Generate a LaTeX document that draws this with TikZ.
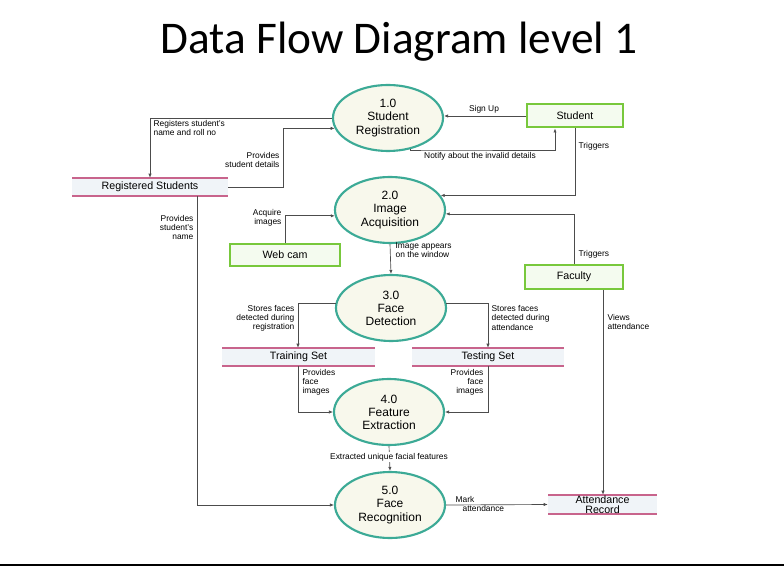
\documentclass[tikz,border=0pt]{standalone}
\usepackage{fontspec}
\setmainfont{Liberation Sans}
\newfontfamily\titlefont{Carlito}
\usetikzlibrary{shapes.geometric,arrows.meta}
\definecolor{teal1}{RGB}{60,170,150}
\definecolor{cream}{RGB}{248,248,236}
\definecolor{green1}{RGB}{120,200,60}
\definecolor{pink1}{RGB}{200,100,140}
\definecolor{store}{RGB}{240,244,248}
\tikzset{
 proc/.style={ellipse,draw=teal1,line width=1.6pt,fill=cream,minimum width=110\px,minimum height=66\px,inner sep=0pt,align=center,font=\fontsize{9}{9.8}\selectfont},
 ent/.style={draw=green1,line width=1.5pt,fill=green1!8,inner sep=0pt,font=\fontsize{8}{9}\selectfont},
 arr/.style={draw=black!70,line width=0.5pt,-{Latex[length=3pt,width=2.5pt]}},
 lbl/.style={font=\fontsize{6.3}{6.8}\selectfont,inner sep=1pt,align=left},
 lblr/.style={lbl,align=right},
}
\newlength{\px}\setlength{\px}{0.75pt}
\newcommand{\datastore}[6]{% name, x1,y1,x2,y2, text
 \fill[store] (#2,#3) rectangle (#4,#5);
 \draw[pink1,line width=0.8pt] (#2,#3) -- (#4,#3) (#2,#5) -- (#4,#5);
 \node[inner sep=0pt,font=\fontsize{8}{8.5}\selectfont,align=center,minimum width={(#4-#2)*\px},minimum height={(#5-#3)*\px}] (#1) at ({(#2+#4)/2},{(#3+#5)/2}) {#6};}
\begin{document}
\begin{tikzpicture}[x=0.75pt,y=-0.75pt]
\useasboundingbox (0,0) rectangle (784,573);
\draw[line width=1pt] (0,565) -- (784,565);
\node[font=\titlefont\fontsize{34}{36}\selectfont] (title) at (399,42) {Data Flow Diagram level 1};
\node[proc] (p1) at (388,118) {1.0\\Student\\Registration};
\node[proc] (p2) at (390,210) {2.0\\Image\\Acquisition};
\node[proc] (p3) at (391,308) {3.0\\Face\\Detection};
\node[proc] (p4) at (389,412) {4.0\\Feature\\Extraction};
\node[proc] (p5) at (390,505) {5.0\\Face\\Recognition};
\node[ent,minimum width=96\px,minimum height=23\px] (st) at (575,116) {Student};
\node[ent,minimum width=98\px,minimum height=24\px] (fa) at (574,277) {Faculty};
\node[ent,minimum width=110\px,minimum height=22\px] (wc) at (285,255) {Web cam};
\datastore{rs}{72}{178}{228}{196}{Registered Students}
\datastore{tr}{222}{348}{375}{366}{Training Set}
\datastore{te}{412}{348}{564}{366}{Testing Set}
\datastore{ar}{548}{495}{657}{514}{Attendance\\[-1pt]Record}
% connectors
\draw[arr] (p1.west) -| (rs.north);
\node[lbl,anchor=west] (l1) at (152,128) {Registers student's\\name and roll no};
\draw[arr] (rs.east) -- (283,187) |- (p1.191);
\node[lblr,anchor=east] (l2) at (281,160) {Provides\\student details};
\draw[arr] (st.west) -- (st.west -| p1.east);
\node[lbl] (l3) at (484,109) {Sign Up};
\draw[arr] (p1.-55) |- (431,150) -| (st.-148);
\node[lbl] (l4) at (480,156) {Notify about the invalid details};
\draw[arr] (st.south) |- (p2.16);
\node[lbl,anchor=west] (l5) at (577,146) {Triggers};
\draw[arr] (fa.north) |- (p2.-4);
\node[lbl,anchor=west] (l6) at (577,254) {Triggers};
\draw[arr] (wc.north) |- (p2.186);
\node[lblr,anchor=east] (l7) at (283,218) {Acquire\\images};
\draw[arr] (p2.south) -- (p3.north);
\node[lbl,anchor=west] (l8) at (394,250) {Image appears\\on the window};
\draw[arr] (p3.175) -| (tr.north -| 298,0);
\node[lblr,anchor=east] (l9) at (296,318) {Stores faces\\detected during\\registration};
\draw[arr] (p3.5) -| (te.north -| 488,0);
\node[lbl,anchor=west] (l10) at (490,318) {Stores faces\\detected during\\attendance};
\draw[arr] (tr.south -| 298,0) |- (p4.west);
\node[lbl,anchor=north west] (l11) at (301,368) {Provides\\face\\images};
\draw[arr] (te.south -| 488,0) |- (p4.east);
\node[lblr,anchor=north east] (l12) at (485,368) {Provides\\face\\images};
\draw[arr] (p4.south) -- (p5.north);
\node[lbl,fill=white] (l13) at (389,457) {Extracted unique facial features};
\draw[arr] (rs.south -| 197,0) |- (p5.west);
\node[lblr,anchor=north east] (l14) at (195,214) {Provides\\student's\\name};
\draw[arr] (fa.south -| 603,0) -- (ar.north -| 603,0);
\node[lbl,anchor=west] (l15) at (606,322) {Views\\attendance};
\draw[arr] (p5.east) -- (ar.west);
\node[lbl,anchor=west] (l16) at (454,504) {Mark\\\hspace*{0pt}\phantom{M}attendance};
\end{tikzpicture}
\end{document}
